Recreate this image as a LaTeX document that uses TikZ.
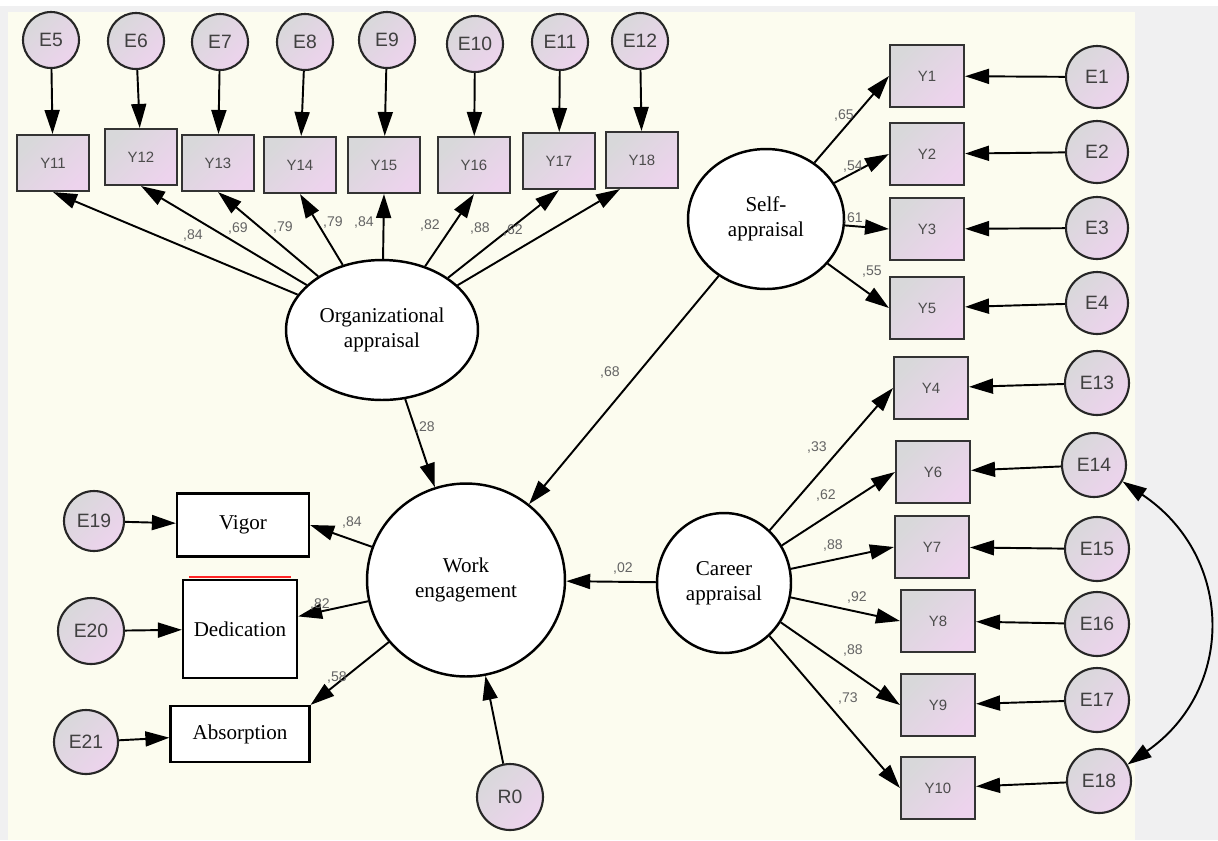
\documentclass[tikz,border=0pt]{standalone}
\usepackage{fontspec}
\setmainfont{Liberation Serif}
\setsansfont{Liberation Sans}
\usetikzlibrary{positioning, arrows.meta, shapes.geometric}
\definecolor{paper}{RGB}{252,252,239}
\definecolor{frame}{RGB}{240,240,241}
\definecolor{egray}{RGB}{216,216,218}
\definecolor{epink}{RGB}{237,211,237}
\definecolor{wtgray}{RGB}{100,100,100}
\tikzset{
  err/.style={circle, draw=black!85, line width=1.2pt, left color=egray, right color=epink, shading angle=45,
    inner sep=0pt, minimum size=11.2mm, font=\sffamily\fontsize{11}{11}\selectfont, text=black!75},
  ybox/.style={rectangle, draw=black!80, line width=1.2pt, left color=egray, right color=epink, shading angle=45,
    inner sep=0pt, minimum width=14.4mm, minimum height=11.2mm, font=\sffamily\fontsize{8.5}{8.5}\selectfont, text=black!70},
  ybox tall/.style={ybox, minimum width=14.8mm, minimum height=12.4mm},
  latent/.style={ellipse, draw, line width=1.4pt, fill=white, inner sep=0pt, align=center, font=\fontsize{12}{14}\selectfont},
  facet/.style={rectangle, draw, line width=1.3pt, fill=white, inner sep=0pt, font=\fontsize{12}{14}\selectfont},
  wt/.style={font=\sffamily\fontsize{8}{8}\selectfont, text=wtgray, inner sep=0pt},
  link/.style={-{Triangle[length=4.8mm,width=3mm]}, line width=1.1pt},
  both/.style={{Triangle[length=4.8mm,width=3mm]}-{Triangle[length=4.8mm,width=3mm]}, line width=1.1pt}
}
\begin{document}
\begin{tikzpicture}[x=0.02cm, y=-0.02cm]
  \useasboundingbox (0,0) rectangle (1218,840);
  \fill[frame] (0,0) rectangle (1218,840);
  \fill[white] (0,0) rectangle (1218,6);
  \fill[paper] (8,12) rectangle (1135,840);

  % latent variables
  \node[latent, minimum width=38.4mm, minimum height=28mm] (org) at (382,330) {Organizational\\appraisal};
  \node[latent, minimum width=31.2mm, minimum height=28mm] (self) at (766,219) {Self-\\appraisal};
  \node[latent, minimum width=26.8mm, minimum height=28mm] (career) at (724,583) {Career\\appraisal};
  \node[latent, minimum width=39.6mm, minimum height=38.6mm] (work) at (466,580) {Work\\engagement};

  % organizational appraisal items
  \node[err] (e5) at (51,40) {E5};
  \node[err] (e6) at (136,41) {E6};
  \node[err] (e7) at (220,42) {E7};
  \node[err] (e8) at (305,42) {E8};
  \node[err] (e9) at (387,40) {E9};
  \node[err] (e10) at (475,44) {E10};
  \node[err] (e11) at (560,42) {E11};
  \node[err] (e12) at (640,41) {E12};
  \node[ybox] (y11) at (53,163) {Y11};
  \node[ybox] (y12) at (141,157) {Y12};
  \node[ybox] (y13) at (218,163) {Y13};
  \node[ybox] (y14) at (300,165) {Y14};
  \node[ybox] (y15) at (384,165) {Y15};
  \node[ybox] (y16) at (474,165) {Y16};
  \node[ybox] (y17) at (559,161) {Y17};
  \node[ybox] (y18) at (642,160) {Y18};

  % self-appraisal items
  \node[ybox tall] (y1) at (927,76) {Y1};
  \node[ybox tall] (y2) at (927,154) {Y2};
  \node[ybox tall] (y3) at (927,229) {Y3};
  \node[ybox tall] (y5) at (927,308) {Y5};
  \node[err, minimum size=12.4mm] (e1) at (1097,77) {E1};
  \node[err, minimum size=12.4mm] (e2) at (1097,152) {E2};
  \node[err, minimum size=12.4mm] (e3) at (1097,228) {E3};
  \node[err, minimum size=12.4mm] (e4) at (1097,303) {E4};

  % career appraisal items
  \node[ybox tall] (y4) at (931,388) {Y4};
  \node[ybox tall] (y6) at (933,472) {Y6};
  \node[ybox tall] (y7) at (932,547) {Y7};
  \node[ybox tall] (y8) at (938,621) {Y8};
  \node[ybox tall] (y9) at (938,705) {Y9};
  \node[ybox tall] (y10) at (938,788) {Y10};
  \node[err, minimum size=12.8mm] (e13) at (1097,383) {E13};
  \node[err, minimum size=12.8mm] (e14) at (1094,465) {E14};
  \node[err, minimum size=12.8mm] (e15) at (1097,549) {E15};
  \node[err, minimum size=12.8mm] (e16) at (1097,624) {E16};
  \node[err, minimum size=12.8mm] (e17) at (1097,700) {E17};
  \node[err, minimum size=12.8mm] (e18) at (1099,781) {E18};

  % work engagement facets
  \node[facet, minimum width=26.4mm, minimum height=12.6mm] (vigor) at (243,525) {Vigor};
  \node[facet, minimum width=22.8mm, minimum height=19.6mm] (dedication) at (240,629) {Dedication};
  \node[facet, minimum width=27.8mm, minimum height=11.2mm] (absorption) at (240,734) {Absorption};
  \node[err, minimum size=12mm] (e19) at (94,521) {E19};
  \node[err, minimum size=13.2mm] (e20) at (91,631) {E20};
  \node[err, minimum size=12.8mm] (e21) at (86,742) {E21};
  \node[err, minimum size=13.2mm] (r0) at (510,797) {R0};
  \draw[red!85, line width=0.8pt] ([xshift=1.4mm,yshift=0.4mm]dedication.north west) -- ([xshift=-1.4mm,yshift=0.4mm]dedication.north east);

  % paths
  \draw[link] (e5) -- (y11);
  \draw[link] (e6) -- (y12);
  \draw[link] (e7) -- (y13);
  \draw[link] (e8) -- (y14);
  \draw[link] (e9) -- (y15);
  \draw[link] (e10) -- (y16);
  \draw[link] (e11) -- (y17);
  \draw[link] (e12) -- (y18);
  \draw[link] (org) -- (y11.south);
  \draw[link] (org) -- (y12.south);
  \draw[link] (org) -- (y13.south);
  \draw[link] (org) -- (y14.south);
  \draw[link] (org) -- (y15.south);
  \draw[link] (org) -- (y16.south);
  \draw[link] (org) -- (y17.south);
  \draw[link] (org) -- ([xshift=-4.4mm]y18.south);

  \draw[link] (self) -- (y1.west);
  \draw[link] (self) -- (y2.west);
  \draw[link] (self) -- (y3.west);
  \draw[link] (self) -- (y5.west);
  \draw[link] (e1) -- (y1);
  \draw[link] (e2) -- (y2);
  \draw[link] (e3) -- (y3);
  \draw[link] (e4) -- (y5);

  \draw[link] (career) -- (y4.west);
  \draw[link] (career) -- (y6.west);
  \draw[link] (career) -- (y7.west);
  \draw[link] (career) -- (y8.west);
  \draw[link] (career) -- (y9.west);
  \draw[link] (career) -- (y10.west);
  \draw[link] (e13) -- (y4);
  \draw[link] (e14) -- (y6);
  \draw[link] (e15) -- (y7);
  \draw[link] (e16) -- (y8);
  \draw[link] (e17) -- (y9);
  \draw[link] (e18) -- (y10);
  \draw[both] (e14.-30) .. controls +(112,75) and +(108,-75) .. (e18.30);

  \draw[link] (org) -- (work);
  \draw[link] (self) -- (work);
  \draw[link] (career) -- (work);
  \draw[link] (r0) -- (work);
  \draw[link] (work) -- (vigor.east);
  \draw[link] (work) -- (dedication);
  \draw[link] (work) -- (absorption.north east);
  \draw[link] (e19) -- (vigor);
  \draw[link] (e20) -- (dedication);
  \draw[link] (e21) -- (absorption);

  % estimates
  \node[wt] (w11) at (193,235) {,84};
  \node[wt] (w12) at (238,228) {,69};
  \node[wt] (w13) at (283,227) {,79};
  \node[wt] (w14) at (333,222) {,79};
  \node[wt] (w15) at (364,222) {,84};
  \node[wt] (w16) at (430,225) {,82};
  \node[wt] (w17) at (480,228) {,88};
  \node[wt] (w18) at (513,230) {,62};
  \node[wt] (w1) at (844,115) {,65};
  \node[wt] (w2) at (853,167) {,54};
  \node[wt] (w3) at (853,218) {,61};
  \node[wt] (w5) at (872,272) {,55};
  \node[wt] (w4) at (817,447) {,33};
  \node[wt] (w6) at (826,495) {,62};
  \node[wt] (w7) at (833,545) {,88};
  \node[wt] (w8) at (857,597) {,92};
  \node[wt] (w9) at (853,650) {,88};
  \node[wt] (w10) at (848,698) {,73};
  \node[wt] (wself) at (610,372) {,68};
  \node[wt] (worg) at (425,427) {,28};
  \node[wt] (wcar) at (623,568) {,02};
  \node[wt] (wvig) at (352,522) {,84};
  \node[wt] (wded) at (320,604) {,82};
  \node[wt] (wabs) at (337,677) {,58};
\end{tikzpicture}
\end{document}
